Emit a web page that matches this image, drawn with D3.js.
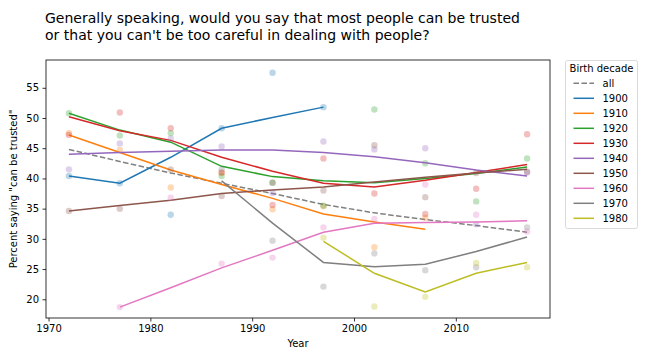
<!DOCTYPE html>
<html><head><meta charset="utf-8">
<script src="https://cdn.jsdelivr.net/npm/d3@7"></script>
<style>
html,body{margin:0;padding:0;background:#fff;}
svg text{font-family:"DejaVu Sans",sans-serif;}
</style></head>
<body><svg id="chart" width="648" height="360"></svg>
<script>
const years = [1972, 1977, 1982, 1987, 1992, 1997, 2002, 2007, 2012, 2017];
const cohorts = ["1900", "1910", "1920", "1930", "1940", "1950", "1960", "1970", "1980"];
const colors = ["#1f77b4", "#ff7f0e", "#2ca02c", "#d62728", "#9467bd", "#8c564b", "#e377c2", "#7f7f7f", "#bcbd22"];
const allLine = [44.8, 42.8, 40.9, 39.2, 37.5, 35.7, 34.3, 33.2, 32.2, 31.1];

const pts1900 = [40.4, 39.2, 34.0, 48.3, 57.5, 51.8, null, null, null, null];
const fit1900 = [40.4, 39.2, 43.5, 48.3, 50.1, 51.8, null, null, null, null];
const pts1910 = [47.5, 44.7, 38.5, 40.9, 34.9, 35.4, 28.6, 33.5, null, null];
const fit1910 = [47.2, 44.3, 41.4, 39.0, 36.7, 34.1, 32.8, 31.6, null, null];
const pts1920 = [50.8, 47.1, 47.5, 40.4, 39.3, 35.5, 51.4, 42.5, 36.2, 43.3];
const fit1920 = [50.8, 48.0, 46.0, 42.0, 40.3, 39.6, 39.3, 40.0, 40.8, 41.9];
const pts1930 = [47.2, 50.9, 48.3, 41.0, 35.6, 43.3, 37.5, 34.1, 38.3, 47.3];
const fit1930 = [50.2, 47.9, 46.3, 43.5, 41.2, 39.2, 38.6, 39.7, 41.0, 42.3];
const pts1940 = [41.5, 45.8, 46.6, 45.3, 37.6, 46.1, 44.8, 45.0, 32.4, 41.0];
const fit1940 = [44.0, 44.3, 44.5, 44.7, 44.7, 44.3, 43.6, 42.6, 41.4, 40.4];
const pts1950 = [34.6, 35.0, 41.5, 37.1, 39.3, 38.0, 45.5, 36.9, 40.9, 41.1];
const fit1950 = [34.6, 35.5, 36.4, 37.5, 38.1, 38.6, 39.4, 40.2, 40.9, 41.5];
const pts1960 = [null, 18.7, 36.8, 25.9, 26.9, 31.9, 33.3, 39.0, 34.0, 31.2];
const fit1960 = [null, 18.7, 21.9, 25.2, 28.1, 31.1, 32.6, 32.7, 32.8, 33.0];
const pts1970 = [null, null, null, 41.5, 29.7, 22.1, 27.6, 24.8, 25.3, 31.9];
const fit1970 = [null, null, null, 39.6, 32.6, 26.1, 25.4, 25.8, 27.9, 30.3];
const pts1980 = [null, null, null, null, null, 30.2, 18.8, 20.4, 26.0, 25.3];
const fit1980 = [null, null, null, null, null, 29.6, 24.3, 21.2, 24.3, 26.1];

const xTicks = [1970, 1980, 1990, 2000, 2010];
const yTicks = [20, 25, 30, 35, 40, 45, 50, 55];

const points = [pts1900, pts1910, pts1920, pts1930, pts1940, pts1950, pts1960, pts1970, pts1980];
const fits = [fit1900, fit1910, fit1920, fit1930, fit1940, fit1950, fit1960, fit1970, fit1980];

const svg = d3.select("#chart");
const L = 46, R = 550, T = 60, B = 318;
const x = d3.scaleLinear().domain([1969.75, 2019.25]).range([L, R]);
const y = d3.scaleLinear().domain([16.9, 59.6]).range([B, T]);

const line = d3.line().defined(d => d[1] != null).x(d => x(d[0])).y(d => y(d[1]));

const plot = svg.append("g");
plot.append("path")
  .attr("d", line(years.map((yr, i) => [yr, allLine[i]])))
  .attr("fill", "none").attr("stroke", "#808080").attr("stroke-width", 1.5)
  .attr("stroke-dasharray", "5.55,2.4");

cohorts.forEach((c, k) => {
  const g = plot.append("g");
  g.selectAll("circle").data(years.map((yr, i) => [yr, points[k][i]]).filter(d => d[1] != null))
    .join("circle").attr("cx", d => x(d[0])).attr("cy", d => y(d[1])).attr("r", 3.2)
    .attr("fill", colors[k]).attr("fill-opacity", 0.3);
  g.append("path")
    .attr("d", line(years.map((yr, i) => [yr, fits[k][i]])))
    .attr("fill", "none").attr("stroke", colors[k]).attr("stroke-width", 1.5);
});

// axes
const xAxis = svg.append("g").attr("transform", `translate(0,${B})`)
  .call(d3.axisBottom(x).tickValues(xTicks).tickFormat(d3.format("d")).tickSizeOuter(0).tickSize(3.5).tickPadding(3.5));
const yAxis = svg.append("g").attr("transform", `translate(${L},0)`)
  .call(d3.axisLeft(y).tickValues(yTicks).tickSizeOuter(0).tickSize(3.5).tickPadding(3.5));
[xAxis, yAxis].forEach(a => {
  a.select(".domain").remove();
  a.selectAll("text").attr("font-size", 10).attr("fill", "#000").attr("font-family", "DejaVu Sans");
  a.selectAll("line").attr("stroke", "#000").attr("stroke-width", 0.8);
});
svg.append("rect").attr("x", L).attr("y", T).attr("width", R - L).attr("height", B - T)
  .attr("fill", "none").attr("stroke", "#000").attr("stroke-width", 0.8);

svg.append("text").attr("x", (L + R) / 2).attr("y", 347).attr("text-anchor", "middle")
  .attr("font-size", 10).text("Year");
svg.append("text").attr("transform", `translate(17,${(T + B) / 2}) rotate(-90)`)
  .attr("text-anchor", "middle").attr("font-size", 10).text('Percent saying "can be trusted"');

const title = svg.append("text").attr("x", 45).attr("y", 23).attr("font-size", 14);
title.append("tspan").attr("x", 45).text("Generally speaking, would you say that most people can be trusted");
title.append("tspan").attr("x", 45).attr("dy", 16.5).text("or that you can't be too careful in dealing with people?");

// legend
const lg = svg.append("g");
lg.append("rect").attr("x", 565.5).attr("y", 60.5).attr("width", 72).attr("height", 168)
  .attr("rx", 2).attr("fill", "#fff").attr("stroke", "#d0d0d0").attr("stroke-width", 0.8);
lg.append("text").attr("x", 601.5).attr("y", 72).attr("text-anchor", "middle").attr("font-size", 10).text("Birth decade");
const legItems = ["all"].concat(cohorts);
const legColors = ["#808080"].concat(colors);
legItems.forEach((name, i) => {
  const yy = 83.3 + i * 15;
  lg.append("line").attr("x1", 573.5).attr("x2", 594).attr("y1", yy).attr("y2", yy)
    .attr("stroke", legColors[i]).attr("stroke-width", 1.5)
    .attr("stroke-dasharray", i === 0 ? "5.55,2.4" : null);
  lg.append("text").attr("x", 602.5).attr("y", yy + 3.6).attr("font-size", 10).text(name);
});
</script></body></html>
